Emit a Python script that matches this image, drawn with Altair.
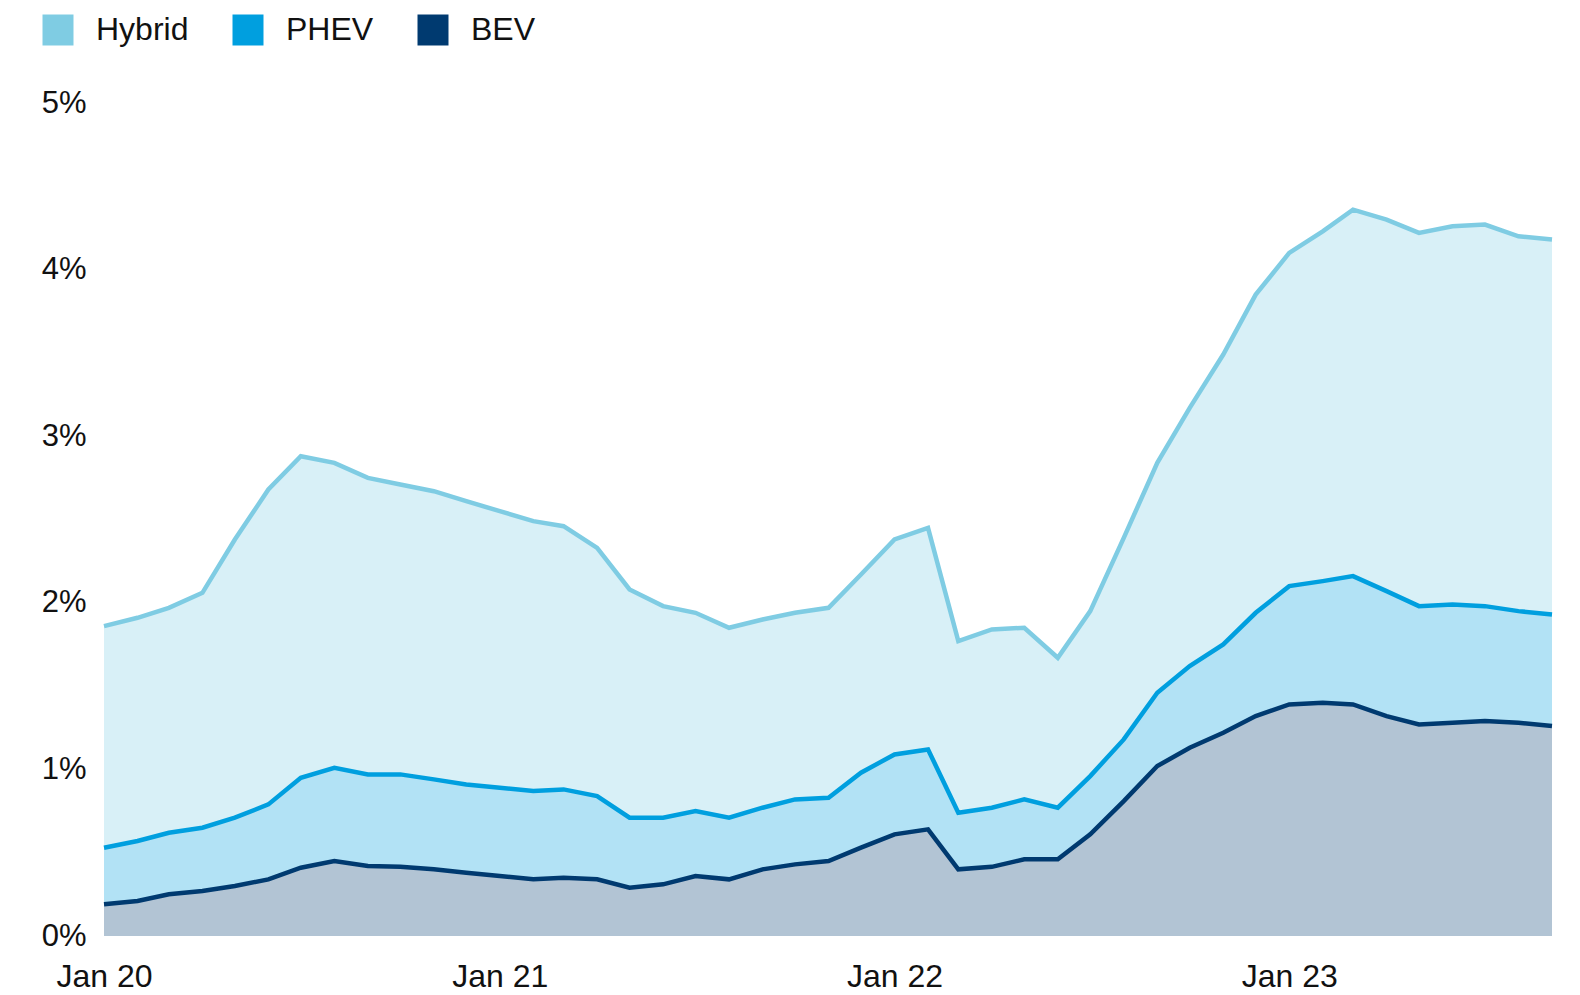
import altair as alt
import pandas as pd

series = ["Hybrid", "PHEV", "BEV"]
line_colors = ["#7FCCE3", "#009FDF", "#003A70"]

months = [f"{y}-{m:02d}-01T00:00:00" for y in (2020, 2021, 2022, 2023) for m in range(1, 13)][:45]

# Top edge of each band (share of sales, %)
hybrid = [1.86, 1.91, 1.97, 2.06, 2.38, 2.68, 2.88, 2.84, 2.75, 2.71, 2.67, 2.61,
          2.55, 2.49, 2.46, 2.33, 2.08, 1.98, 1.94, 1.85, 1.90, 1.94, 1.97, 2.17,
          2.38, 2.45, 1.77, 1.84, 1.85, 1.67, 1.95, 2.39, 2.84, 3.17, 3.49, 3.85,
          4.10, 4.23, 4.36, 4.30, 4.22, 4.26, 4.27, 4.20, 4.18]
phev = [0.53, 0.57, 0.62, 0.65, 0.71, 0.79, 0.95, 1.01, 0.97, 0.97, 0.94, 0.91,
        0.89, 0.87, 0.88, 0.84, 0.71, 0.71, 0.75, 0.71, 0.77, 0.82, 0.83, 0.98,
        1.09, 1.12, 0.74, 0.77, 0.82, 0.77, 0.96, 1.18, 1.46, 1.62, 1.75, 1.94,
        2.10, 2.13, 2.16, 2.07, 1.98, 1.99, 1.98, 1.95, 1.93]
bev = [0.19, 0.21, 0.25, 0.27, 0.30, 0.34, 0.41, 0.45, 0.42, 0.415, 0.40, 0.38,
       0.36, 0.34, 0.35, 0.34, 0.29, 0.31, 0.36, 0.34, 0.40, 0.43, 0.45, 0.53,
       0.61, 0.64, 0.40, 0.415, 0.46, 0.46, 0.61, 0.81, 1.02, 1.13, 1.22, 1.32,
       1.39, 1.40, 1.39, 1.32, 1.27, 1.28, 1.29, 1.28, 1.26]

tick_years = [2020, 2021, 2022, 2023]
y_ticks = [0, 1, 2, 3, 4, 5]

rows = []
for i, d in enumerate(months):
    rows.append({"date": d, "series": "Hybrid", "upper": hybrid[i], "lower": phev[i], "o": 0})
    rows.append({"date": d, "series": "PHEV", "upper": phev[i], "lower": bev[i], "o": 1})
    rows.append({"date": d, "series": "BEV", "upper": bev[i], "lower": 0.0, "o": 2})
df = pd.DataFrame(rows)

FONT = "Liberation Sans"

x_enc = alt.X(
    "date:T",
    scale=alt.Scale(domain=[alt.DateTime(year=2020, month=1, date=1),
                            alt.DateTime(year=2023, month=9, date=1)], nice=False),
    axis=alt.Axis(
        values=[alt.DateTime(year=y, month=1, date=1) for y in tick_years],
        format="%b %y", title=None, domain=False, ticks=False, grid=False,
        labelFontSize=32, labelFont=FONT, labelColor="#111111", labelPadding=25,
        labelAngle=0, labelFlush=False,
    ),
)
y_scale = alt.Scale(domain=[0, 5], nice=False)
color_scale = alt.Scale(domain=series, range=line_colors)

area = alt.Chart(df).mark_area(opacity=0.3, interpolate="linear").encode(
    x=x_enc,
    y=alt.Y("upper:Q", scale=y_scale, axis=alt.Axis(
        values=y_ticks, labelExpr="datum.value + '%'", title=None,
        domain=False, ticks=False, grid=False, labelFontSize=31, labelFont=FONT,
        labelColor="#111111", labelPadding=18)),
    y2="lower:Q",
    color=alt.Color("series:N", scale=color_scale, legend=alt.Legend(
        title=None, orient="none", legendX=-62, legendY=-89, direction="horizontal",
        symbolType="square", symbolSize=961, symbolOpacity=1, symbolStrokeWidth=0,
        labelFontSize=32, labelFont=FONT, labelColor="#111111", labelOffset=22,
        columnPadding=43, padding=0)),
    order=alt.Order("o:Q"),
)

line = alt.Chart(df).mark_line(strokeWidth=4.5, interpolate="linear").encode(
    x=x_enc,
    y=alt.Y("upper:Q", scale=y_scale),
    color=alt.Color("series:N", scale=color_scale, legend=None),
    order=alt.Order("date:T"),
)

chart = alt.layer(area, line).properties(
    width=1448, height=833,
    autosize=alt.AutoSizeParams(type="none"),
    padding={"left": 96, "top": 95, "right": 20, "bottom": 57},
).configure_view(stroke=None, strokeWidth=0)

chart.save("out.html", embed_options={"renderer": "svg", "actions": False})
